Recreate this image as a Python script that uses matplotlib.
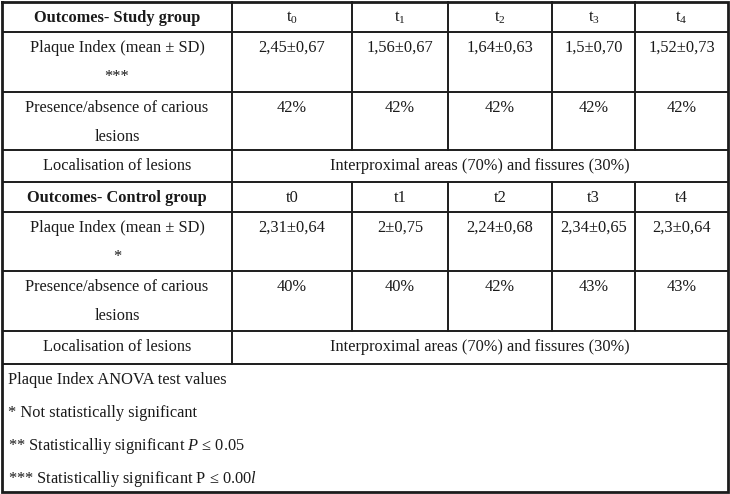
import matplotlib.pyplot as plt

plt.rcParams['font.family'] = ['Liberation Serif', 'DejaVu Serif']
plt.rcParams['mathtext.fontset'] = 'custom'
plt.rcParams['mathtext.rm'] = 'Liberation Serif'
plt.rcParams['mathtext.it'] = 'Liberation Serif:italic'

# table content
study_header = 'Outcomes- Study group'
study_times = [r'$\mathrm{t}_0$', r'$\mathrm{t}_1$', r'$\mathrm{t}_2$', r'$\mathrm{t}_3$', r'$\mathrm{t}_4$']
study_plaque = ['2,45±0,67', '1,56±0,67', '1,64±0,63', '1,5±0,70', '1,52±0,73']
study_caries = ['42%', '42%', '42%', '42%', '42%']
study_plaque_label = ['Plaque Index (mean ± SD)', '***']

control_header = 'Outcomes- Control group'
control_times = ['t0', 't1', 't2', 't3', 't4']
control_plaque = ['2,31±0,64', '2±0,75', '2,24±0,68', '2,34±0,65', '2,3±0,64']
control_caries = ['40%', '40%', '42%', '43%', '43%']
control_plaque_label = ['Plaque Index (mean ± SD)', '*']

caries_label = ['Presence/absence of carious', 'lesions']
local_label = 'Localisation of lesions'
local_text = 'Interproximal areas (70%) and fissures (30%)'

footnotes = ['Plaque Index ANOVA test values',
             '* Not statistically significant',
             r'** Statisticalliy significant $P$ ≤ 0.05',
             r'*** Statisticalliy significant P ≤ 0.00$l$']

# layout in pixels
col_x = [2, 232, 352, 448, 552, 635, 728]
row_y = [2, 32, 92, 150, 182, 212, 271, 331, 364, 492]
line_col = '#1c1c1c'
txt_col = '#1a1a1a'
fs = 11.8

fig = plt.figure(figsize=(7.3, 4.94), dpi=100)
ax = fig.add_axes([0, 0, 1, 1])
ax.set_xlim(0, 730)
ax.set_ylim(494, 0)
ax.axis('off')

# horizontal lines
for y in row_y[1:-1]:
    ax.plot([col_x[0], col_x[-1]], [y, y], color=line_col, lw=1.4, solid_capstyle='butt')
# first column border
ax.plot([col_x[1], col_x[1]], [row_y[0], row_y[8]], color=line_col, lw=1.4)
# inner column borders, skipping the merged localisation rows
for x in col_x[2:-1]:
    for r0, r1 in [(0, 3), (4, 7)]:
        ax.plot([x, x], [row_y[r0], row_y[r1]], color=line_col, lw=1.4)
# outer frame
ax.plot([col_x[0], col_x[-1], col_x[-1], col_x[0], col_x[0]],
        [row_y[0], row_y[0], row_y[-1], row_y[-1], row_y[0]],
        color=line_col, lw=2.0, solid_joinstyle='miter')


def cell(i, lines, row, weight='normal'):
    cx = (col_x[i] + col_x[i + 1]) / 2
    for k, s in enumerate(lines):
        ax.text(cx, row_y[row] + 16 + 29 * k, s, ha='center', va='center',
                fontsize=fs, color=txt_col, fontweight=weight)


def block(top, header, times, plaque, caries, plaque_label):
    cell(0, [header], top, weight='bold')
    cell(0, plaque_label, top + 1)
    cell(0, caries_label, top + 2)
    cell(0, [local_label], top + 3)
    for j in range(5):
        cell(j + 1, [times[j]], top)
        cell(j + 1, [plaque[j]], top + 1)
        cell(j + 1, [caries[j]], top + 2)
    ax.text((col_x[1] + col_x[-1]) / 2, row_y[top + 3] + 16, local_text,
            ha='center', va='center', fontsize=fs, color=txt_col)


block(0, study_header, study_times, study_plaque, study_caries, study_plaque_label)
block(4, control_header, control_times, control_plaque, control_caries, control_plaque_label)

for k, s in enumerate(footnotes):
    ax.text(8, row_y[8] + 16 + 33 * k, s, ha='left', va='center',
            fontsize=fs, color=txt_col)

fig.savefig('out.png', dpi=100)
